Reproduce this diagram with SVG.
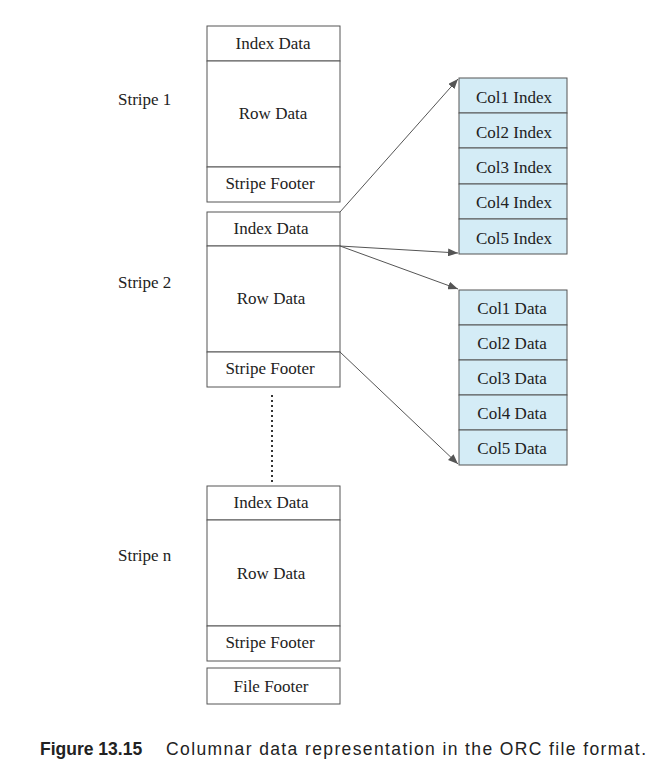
<svg xmlns="http://www.w3.org/2000/svg" width="667" height="768" viewBox="0 0 667 768">
<style>
.b{fill:#fff;stroke:#555;stroke-width:1}
.c{fill:#d4ecf6;stroke:#555;stroke-width:1}
text{font-family:"Liberation Serif",serif;font-size:17px;fill:#222;text-anchor:middle}
.l{text-anchor:start}
.cap{font-family:"Liberation Sans",sans-serif;font-size:17.5px;text-anchor:start}
.a{stroke:#555;stroke-width:1;fill:none;marker-end:url(#ah)}
</style>
<defs><marker id="ah" markerWidth="10" markerHeight="8" refX="10" refY="4" orient="auto" markerUnits="userSpaceOnUse"><path d="M0,0 L10,4 L0,8 Z" fill="#555"/></marker></defs>
<rect width="667" height="768" fill="#fff"/>
<g id="stripe1">
<rect class="b" x="207" y="26" width="133" height="35"/><text x="273" y="49">Index Data</text>
<rect class="b" x="207" y="61" width="133" height="106"/><text x="273" y="119">Row Data</text>
<rect class="b" x="207" y="167" width="133" height="35"/><text x="270" y="189">Stripe Footer</text>
<text class="l" x="118" y="105">Stripe 1</text></g>
<g id="stripe2">
<rect class="b" x="207" y="212" width="133" height="34"/><text x="271" y="234">Index Data</text>
<rect class="b" x="207" y="246" width="133" height="106"/><text x="271" y="304">Row Data</text>
<rect class="b" x="207" y="352" width="133" height="35"/><text x="270" y="374">Stripe Footer</text>
<text class="l" x="118" y="288">Stripe 2</text></g>
<g id="striven">
<rect class="b" x="207" y="486" width="133" height="34"/><text x="271" y="508">Index Data</text>
<rect class="b" x="207" y="520" width="133" height="106"/><text x="271" y="579">Row Data</text>
<rect class="b" x="207" y="626" width="133" height="35"/><text x="270" y="648">Stripe Footer</text>
<text class="l" x="118" y="561">Stripe n</text></g>
<g id="filefooter"><rect class="b" x="207" y="668" width="133" height="36"/><text x="271" y="692">File Footer</text></g>
<g id="colindex">
<rect class="c" x="459" y="78" width="108" height="35"/><text x="514" y="103">Col1 Index</text>
<rect class="c" x="459" y="113" width="108" height="35"/><text x="514" y="138">Col2 Index</text>
<rect class="c" x="459" y="148" width="108" height="36"/><text x="514" y="173">Col3 Index</text>
<rect class="c" x="459" y="184" width="108" height="35"/><text x="514" y="208">Col4 Index</text>
<rect class="c" x="459" y="219" width="108" height="35"/><text x="514" y="244">Col5 Index</text></g>
<g id="coldata">
<rect class="c" x="459" y="290" width="108" height="35"/><text x="512" y="314">Col1 Data</text>
<rect class="c" x="459" y="325" width="108" height="35"/><text x="512" y="349">Col2 Data</text>
<rect class="c" x="459" y="360" width="108" height="35"/><text x="512" y="384">Col3 Data</text>
<rect class="c" x="459" y="395" width="108" height="35"/><text x="512" y="419">Col4 Data</text>
<rect class="c" x="459" y="430" width="108" height="35"/><text x="512" y="454">Col5 Data</text></g>
<g id="connectors">
<line class="a" x1="340" y1="212" x2="458" y2="79"/>
<line class="a" x1="340" y1="246" x2="458" y2="253"/>
<line class="a" x1="340" y1="246" x2="458" y2="289"/>
<line class="a" x1="340" y1="352" x2="458" y2="464"/>
<line x1="272" y1="395" x2="272" y2="482" stroke="#333" stroke-width="2" stroke-dasharray="2,3"/>
</g>
<text class="cap" x="40" y="755"><tspan font-weight="bold">Figure 13.15</tspan><tspan x="166" textLength="480">Columnar data representation in the ORC file format.</tspan></text>
</svg>
